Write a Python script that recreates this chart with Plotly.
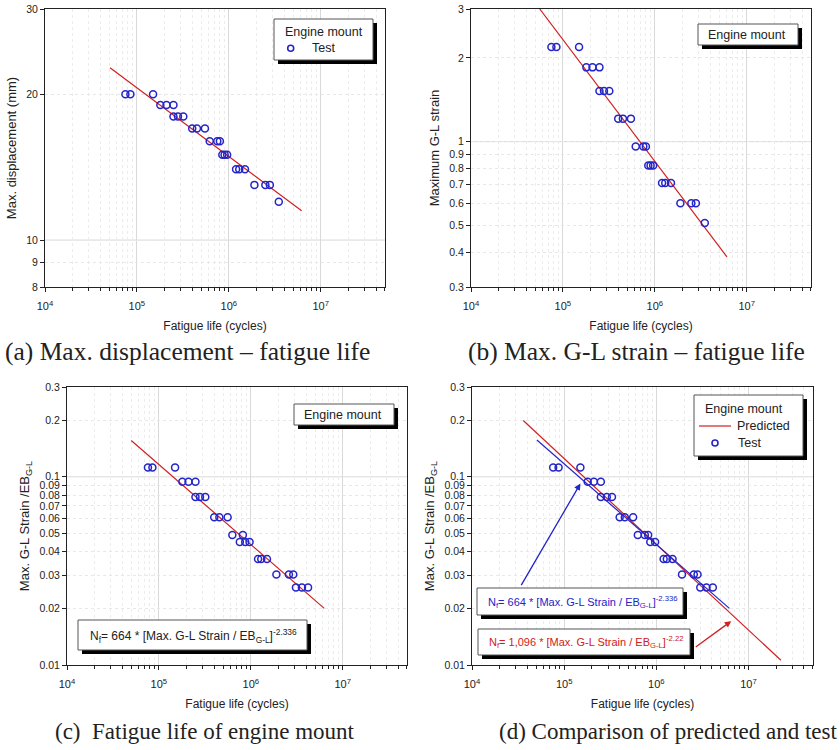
import plotly.graph_objects as go
import math

# ---------------- data ----------------
N_ab = [7.5e4, 8.5e4, 1.5e5, 1.8e5, 2.1e5, 2.5e5, 2.5e5, 2.8e5, 3.2e5,
        4.0e5, 4.5e5, 5.5e5, 6.2e5, 7.5e5, 8.0e5, 8.5e5, 9.0e5, 9.6e5,
        1.2e6, 1.3e6, 1.5e6, 1.9e6, 2.5e6, 2.8e6, 3.5e6]
disp_a = [20, 20, 20, 19, 19, 19, 18, 18, 18, 17, 17, 17, 16, 16, 16,
          15, 15, 15, 14, 14, 14, 13, 13, 13, 12]
strain_b = [2.19, 2.19, 2.19, 1.85, 1.85, 1.85, 1.52, 1.52, 1.52,
            1.21, 1.21, 1.21, 0.96, 0.96, 0.96, 0.82, 0.82, 0.82,
            0.71, 0.71, 0.71, 0.60, 0.60, 0.60, 0.51]

N_c = [7.6e4, 8.5e4, 1.5e5, 1.8e5, 2.1e5, 2.5e5, 2.5e5, 2.8e5, 3.2e5,
       4.0e5, 4.55e5, 5.6e5, 6.3e5, 8.2e5, 7.6e5, 8.7e5, 9.7e5,
       1.2e6, 1.3e6, 1.5e6, 1.9e6, 2.6e6, 2.9e6, 3.1e6, 3.6e6, 4.2e6]
ratio_c = [0.112, 0.112, 0.112, 0.094, 0.094, 0.094, 0.078, 0.078, 0.078,
           0.061, 0.061, 0.061, 0.049, 0.049, 0.045, 0.045, 0.045,
           0.0366, 0.0366, 0.0366, 0.0303, 0.0303, 0.0303, 0.0258, 0.0258, 0.0258]

N_d = [7.6e4, 8.7e4, 1.5e5, 1.8e5, 2.1e5, 2.5e5, 2.5e5, 2.9e5, 3.3e5,
       4.0e5, 4.55e5, 5.6e5, 6.3e5, 7.5e5, 8.15e5, 8.6e5, 9.7e5,
       1.2e6, 1.3e6, 1.5e6, 1.9e6, 2.55e6, 2.8e6, 3.0e6, 3.5e6, 4.1e6]
ratio_d = [0.112, 0.112, 0.112, 0.094, 0.094, 0.094, 0.078, 0.078, 0.078,
           0.061, 0.061, 0.061, 0.049, 0.049, 0.049, 0.045, 0.045,
           0.0366, 0.0366, 0.0366, 0.0303, 0.0303, 0.0303, 0.0258, 0.0258, 0.0258]

fit_a_N = [5.1e4, 6.2e6]
fit_a_y = [22.7, 11.5]
fit_b_N = [5.6e4, 6.1e6]
fit_b_y = [3.0, 0.385]
fit_c_N = [5.0e4, 6.3e6]
fit_c_y = [0.156, 0.020]
pred_d_N = [3.6e4, 2.25e7]
pred_d_y = [0.199, 0.0106]
fit_d_N = [5.06e4, 6.2e6]
fit_d_y = [0.157, 0.020]

# arrow tips (panel d), data coordinates
arrow_fit_tip = (1.5e5, 0.092)
arrow_pred_tip = (6.5e6, 0.0171)

x_ticks = [1e4, 1e5, 1e6, 1e7]
x_ticktext = ["10<sup>4</sup>", "10<sup>5</sup>", "10<sup>6</sup>", "10<sup>7</sup>"]
ya_ticks = [8, 9, 10, 20, 30]
yb_ticks = [0.3, 0.4, 0.5, 0.6, 0.7, 0.8, 0.9, 1, 2, 3]
yc_ticks = [0.01, 0.02, 0.03, 0.04, 0.05, 0.06, 0.07, 0.08, 0.09, 0.1, 0.2, 0.3]
ya_text = ["8", "9", "10", "20", "30"]
yb_text = ["0.3", "0.4", "0.5", "0.6", "0.7", "0.8", "0.9", "1", "2", "3"]
yc_text = ["0.01", "0.02", "0.03", "0.04", "0.05", "0.06", "0.07", "0.08", "0.09", "0.1", "0.2", "0.3"]

x_title = "Fatigue life (cycles)"
captions = ["(a) Max. displacement \u2013 fatigue life",
            "(b) Max. G-L strain \u2013 fatigue life",
            "(c)\u00a0\u00a0Fatigue life of engine mount",
            "(d) Comparison of predicted and test"]
eq_fit = "N<sub>f</sub>= 664 * [Max. G-L Strain / EB<sub>G-L</sub>]<sup>-2.336</sup>"
eq_pred = "N<sub>f</sub>= 1,096 * [Max. G-L Strain / EB<sub>G-L</sub>]<sup>-2.22</sup>"

# ---------------- style ----------------
W, H = 840, 750
BLUE = "#2424c8"
RED = "#d02020"
AX = "#222222"
SANS = "Liberation Sans, Arial, sans-serif"
SERIF = "Liberation Serif, Times New Roman, serif"

def px(x):
    return x / W

def py(y):
    return 1 - y / H

minor_x = [m * 10 ** e for e in range(4, 8) for m in range(2, 10) if m * 10 ** e <= 5e7]

fig = go.Figure()

marker = dict(symbol="circle-open", size=7, color=BLUE, line=dict(width=1.5, color=BLUE))

fig.add_trace(go.Scatter(x=fit_a_N, y=fit_a_y, mode="lines", line=dict(color=RED, width=1.2),
                         xaxis="x", yaxis="y", showlegend=False))
fig.add_trace(go.Scatter(x=N_ab, y=disp_a, mode="markers", marker=marker,
                         xaxis="x", yaxis="y", showlegend=False))
fig.add_trace(go.Scatter(x=fit_b_N, y=fit_b_y, mode="lines", line=dict(color=RED, width=1.2),
                         xaxis="x2", yaxis="y2", showlegend=False))
fig.add_trace(go.Scatter(x=N_ab, y=strain_b, mode="markers", marker=marker,
                         xaxis="x2", yaxis="y2", showlegend=False))
fig.add_trace(go.Scatter(x=fit_c_N, y=fit_c_y, mode="lines", line=dict(color=RED, width=1.2),
                         xaxis="x3", yaxis="y3", showlegend=False))
fig.add_trace(go.Scatter(x=N_c, y=ratio_c, mode="markers", marker=marker,
                         xaxis="x3", yaxis="y3", showlegend=False))
fig.add_trace(go.Scatter(x=pred_d_N, y=pred_d_y, mode="lines", line=dict(color=RED, width=1.2),
                         xaxis="x4", yaxis="y4", showlegend=False))
fig.add_trace(go.Scatter(x=fit_d_N, y=fit_d_y, mode="lines", line=dict(color=BLUE, width=1.2),
                         xaxis="x4", yaxis="y4", showlegend=False))
fig.add_trace(go.Scatter(x=N_d, y=ratio_d, mode="markers", marker=marker,
                         xaxis="x4", yaxis="y4", showlegend=False))

def xaxis(domain, anchor):
    return dict(type="log", domain=domain, anchor=anchor, range=[4, 7.7],
                tickvals=x_ticks, ticktext=x_ticktext, ticks="outside", ticklen=4,
                ticklabelstandoff=5,
                tickcolor=AX, tickfont=dict(family=SANS, size=11, color=AX),
                showline=True, linecolor=AX, linewidth=1, mirror=True,
                showgrid=True, gridcolor="#d9d9d9", gridwidth=1, zeroline=False,
                minor=dict(tickvals=minor_x, ticks="outside", ticklen=3, tickcolor=AX,
                           showgrid=True, gridcolor="#ececec", griddash="dot"),
                title=dict(text=x_title, font=dict(family=SANS, size=12, color=AX), standoff=10),
                automargin=False, fixedrange=True)

def yaxis(domain, anchor, rng, tv, tt, title):
    return dict(type="log", domain=domain, anchor=anchor, range=rng,
                tickvals=tv, ticktext=tt, ticks="outside", ticklen=4,
                tickcolor=AX, tickfont=dict(family=SANS, size=10.5, color=AX),
                showline=True, linecolor=AX, linewidth=1, mirror=True,
                showgrid=True, gridcolor="#e8e8e8", griddash="dot", zeroline=False,
                title=dict(text=title, font=dict(family=SANS, size=13, color=AX), standoff=6),
                automargin=False, fixedrange=True)

dx_a = [px(45), px(385)]
dx_b = [px(471), px(811)]
dx_c = [px(67), px(407)]
dx_d = [px(472), px(813)]
dy_top = [py(287), py(9)]
dy_bot = [py(665), py(387)]

yc_title = "Max. G-L Strain /EB<sub>G-L</sub>"
fig.update_layout(
    width=W, height=H, margin=dict(l=0, r=0, t=0, b=0),
    paper_bgcolor="white", plot_bgcolor="white", showlegend=False,
    xaxis=xaxis(dx_a, "y"), yaxis=yaxis(dy_top, "x", [math.log10(8), math.log10(30)], ya_ticks, ya_text, "Max. displacement (mm)"),
    xaxis2=xaxis(dx_b, "y2"), yaxis2=yaxis(dy_top, "x2", [math.log10(0.3), math.log10(3)], yb_ticks, yb_text, "Maximum G-L strain"),
    xaxis3=xaxis(dx_c, "y3"), yaxis3=yaxis(dy_bot, "x3", [-2, math.log10(0.3)], yc_ticks, yc_text, yc_title),
    xaxis4=xaxis(dx_d, "y4"), yaxis4=yaxis(dy_bot, "x4", [-2, math.log10(0.3)], yc_ticks, yc_text, yc_title),
)

shapes = []
# decade horizontal grid lines (solid)
for xa, ya, val in [("x", "y", 10), ("x2", "y2", 1), ("x3", "y3", 0.1), ("x4", "y4", 0.1)]:
    shapes.append(dict(type="line", xref=xa + " domain", yref=ya, x0=0, x1=1, y0=val, y1=val,
                       line=dict(color="#d9d9d9", width=1), layer="below"))

def box(x0, y0, x1, y1, off=4):
    shapes.append(dict(type="rect", xref="paper", yref="paper",
                       x0=px(x0 + off), x1=px(x1 + off), y0=py(y1 + off), y1=py(y0 + off),
                       fillcolor="black", line=dict(width=0), layer="above"))
    shapes.append(dict(type="rect", xref="paper", yref="paper",
                       x0=px(x0), x1=px(x1), y0=py(y1), y1=py(y0),
                       fillcolor="white", line=dict(color="#555555", width=1), layer="above"))

def circ(cx, cy, r=3):
    shapes.append(dict(type="circle", xref="paper", yref="paper",
                       x0=px(cx - r), x1=px(cx + r), y0=py(cy + r), y1=py(cy - r),
                       line=dict(color=BLUE, width=1.6), fillcolor="rgba(0,0,0,0)", layer="above"))

# legends
box(274, 19, 373, 60)
circ(290.7, 48.3)
box(698, 24, 798, 45)
box(294, 404, 394, 425)
box(694, 395, 803, 456)
shapes.append(dict(type="line", xref="paper", yref="paper", x0=px(699), x1=px(731),
                   y0=py(426), y1=py(426), line=dict(color=RED, width=1.2), layer="above"))
circ(715, 443)
# equation boxes
box(78, 620, 307, 650)
box(477, 588, 683, 615)
box(478, 629, 690, 655)

fig.update_layout(shapes=shapes)

ann = []
def txt(x, y, s, size=12.5, color=AX, xanchor="left", family=SANS):
    ann.append(dict(x=px(x), y=py(y), xref="paper", yref="paper", text=s, showarrow=False,
                    xanchor=xanchor, yanchor="middle", font=dict(family=family, size=size, color=color)))

txt(282.5, 31.7, "Engine mount")
txt(310, 48, "Test")
txt(706, 35, "Engine mount")
txt(302, 414.5, "Engine mount")
txt(702.5, 409, "Engine mount")
txt(734.5, 426, "Predicted")
txt(736, 443, "Test")
txt(88, 636, eq_fit, size=12)
txt(486, 601.5, eq_fit, size=11, color=BLUE)
txt(487, 642, eq_pred, size=11, color=RED)

# captions
txt(187.5, 351, captions[0], size=25.5, xanchor="center", family=SERIF)
txt(636.5, 351, captions[1], size=25.5, xanchor="center", family=SERIF)
txt(205, 731, captions[2], size=23, xanchor="center", family=SERIF)
txt(668, 731, captions[3], size=23, xanchor="center", family=SERIF)

# arrows in panel (d) (annotation positions on log axes are given in log10 units)
ann.append(dict(x=math.log10(arrow_fit_tip[0]), y=math.log10(arrow_fit_tip[1]), xref="x4", yref="y4",
                ax=-60, ay=103, axref="pixel", ayref="pixel",
                text="", showarrow=True, arrowhead=2, arrowsize=1, arrowwidth=1.3, arrowcolor=BLUE))
ann.append(dict(x=math.log10(arrow_pred_tip[0]), y=math.log10(arrow_pred_tip[1]), xref="x4", yref="y4",
                ax=-37, ay=27, axref="pixel", ayref="pixel",
                text="", showarrow=True, arrowhead=2, arrowsize=1, arrowwidth=1.3, arrowcolor=RED))

fig.update_layout(annotations=ann)

fig.write_html("out.html")
